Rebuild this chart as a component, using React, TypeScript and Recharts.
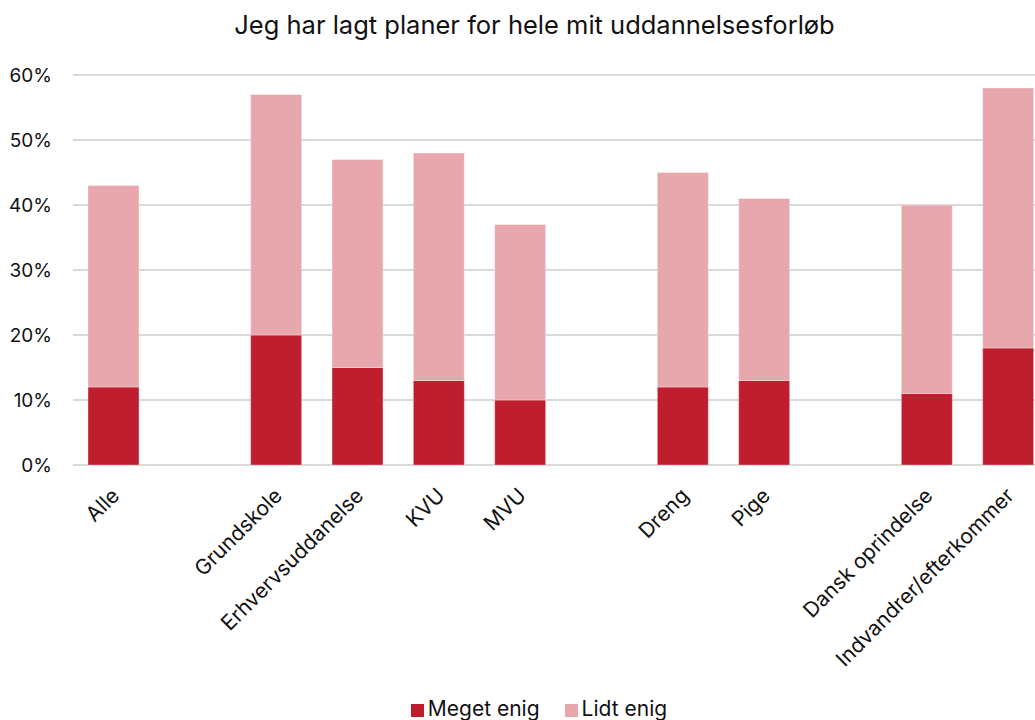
import { BarChart, Bar, XAxis, YAxis, CartesianGrid, Legend } from 'recharts';

const CATEGORIES = [
  'Alle', '', 'Grundskole', 'Erhvervsuddanelse', 'KVU', 'MVU', '',
  'Dreng', 'Pige', '', 'Dansk oprindelse', 'Indvandrer/efterkommer',
];
const MEGET_ENIG = [0.12, null, 0.20, 0.15, 0.13, 0.10, null, 0.12, 0.13, null, 0.11, 0.18];
const LIDT_ENIG = [0.31, null, 0.37, 0.32, 0.35, 0.27, null, 0.33, 0.28, null, 0.29, 0.40];
const Y_TICKS = [0, 0.1, 0.2, 0.3, 0.4, 0.5, 0.6];

const DARK = '#BE1E2E';
const LIGHT = '#E7A7AD';
const FONT = 'Inter, "Noto Sans", sans-serif';

const data = CATEGORIES.map((label, i) => ({
  label,
  meget: MEGET_ENIG[i],
  lidt: LIDT_ENIG[i],
}));

const RotatedTick = (props: any) => {
  const { x, y, payload } = props;
  const tx = x + 7;
  const ty = y + 24;
  return (
    <text
      x={tx} y={ty} transform={`rotate(-45 ${tx} ${ty})`}
      textAnchor="end" fontSize={21} fontFamily={FONT} fill="#111"
    >
      {payload.value}
    </text>
  );
};

const LegendContent = () => (
  <div style={{ display: 'flex', justifyContent: 'center', gap: 25, fontFamily: FONT, fontSize: 21, color: '#111', lineHeight: '24px' }}>
    {[
      { name: 'Meget enig', color: DARK },
      { name: 'Lidt enig', color: LIGHT },
    ].map((it) => (
      <span key={it.name} style={{ display: 'flex', alignItems: 'center' }}>
        <span style={{ display: 'inline-block', width: 13, height: 13, background: it.color, marginRight: 4, marginTop: 2 }} />
        {it.name}
      </span>
    ))}
  </div>
);

export default function App() {
  return (
    <div style={{ position: 'absolute', left: 0, top: 0, width: 1035, height: 720, overflow: 'hidden', background: '#fff' }}>
      <div style={{
        position: 'absolute', left: 0, width: 1069, top: 9, textAlign: 'center',
        fontFamily: FONT, fontSize: 25.5, color: '#111',
      }}>
        Jeg har lagt planer for hele mit uddannelsesforløb
      </div>
      <BarChart
        width={1058} height={730} data={data}
        margin={{ top: 75, right: 9, left: 0, bottom: 0 }}
        barSize={51}
      >
        <CartesianGrid vertical={false} stroke="#D9D9D9" strokeWidth={2} />
        <XAxis
          dataKey="label" axisLine={false} tickLine={false} interval={0}
          height={265} tick={<RotatedTick />}
        />
        <YAxis
          domain={[0, 0.6]} ticks={Y_TICKS} width={73}
          axisLine={false} tickLine={false} tickMargin={15}
          tickFormatter={(v) => `${Math.round(v * 100)}%`}
          tick={{ fontSize: 19, fontFamily: FONT, fill: '#111' }}
        />
        <Legend
          layout="horizontal" verticalAlign="middle" align="center"
          wrapperStyle={{ top: 697, left: 0, width: 1078 }}
          content={<LegendContent />}
        />
        <Bar dataKey="meget" name="Meget enig" stackId="a" fill={DARK} stroke="#fff" strokeOpacity={0.35} isAnimationActive={false} />
        <Bar dataKey="lidt" name="Lidt enig" stackId="a" fill={LIGHT} stroke="#fff" strokeOpacity={0.35} isAnimationActive={false} />
      </BarChart>
    </div>
  );
}
